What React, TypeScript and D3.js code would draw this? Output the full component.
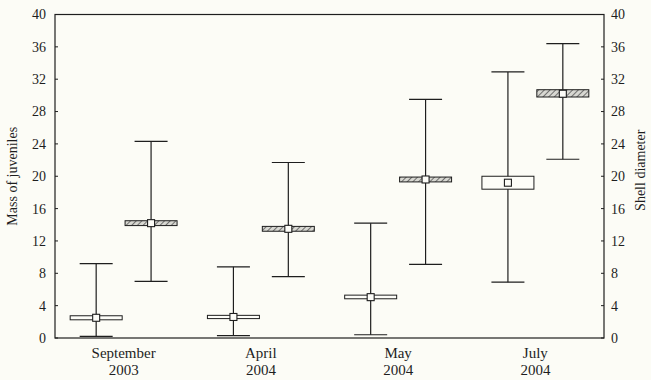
import React from "react";
import * as d3 from "d3";

const months = ["September", "April", "May", "July"];
const years = ["2003", "2004", "2004", "2004"];
const yTicks = [0, 4, 8, 12, 16, 20, 24, 28, 32, 36, 40];
const seriesKeys = ["mass", "shell"];

// mass of juveniles (white boxes)
const massMean = [2.5, 2.6, 5.05, 19.2];
const massLo = [2.25, 2.4, 4.85, 18.4];
const massHi = [2.75, 2.8, 5.3, 20.0];
const massMin = [0.2, 0.3, 0.4, 6.9];
const massMax = [9.2, 8.8, 14.2, 32.9];

// shell diameter (hatched boxes)
const shellMean = [14.2, 13.5, 19.6, 30.2];
const shellLo = [13.9, 13.2, 19.3, 29.8];
const shellHi = [14.5, 13.8, 19.9, 30.7];
const shellMin = [7.0, 7.6, 9.1, 22.1];
const shellMax = [24.3, 21.7, 29.5, 36.4];

const W = 651;
const H = 380;
const left = 55;
const right = 604;
const top = 14.5;
const bottom = 338;
const font = "'Liberation Serif', 'DejaVu Serif', serif";
const ink = "#1e1e1e";

export default function App() {
  const x = d3.scaleBand().domain(months).range([left, right]).padding(0);
  const xs = d3.scalePoint().domain(seriesKeys).range([0, x.bandwidth()]).padding(0.75);
  const y = d3.scaleLinear().domain([0, 40]).range([bottom, top]);

  const boxW = 52;
  const capW = 33;
  const dot = 7;

  const series = [
    { key: "mass", mean: massMean, lo: massLo, hi: massHi, min: massMin, max: massMax, fill: "#fdfdf8" },
    { key: "shell", mean: shellMean, lo: shellLo, hi: shellHi, min: shellMin, max: shellMax, fill: "url(#hatch)" },
  ];

  return (
    <svg width={W} height={H} style={{ position: "absolute", left: 0, top: 0, background: "#fcfcf6" }}>
      <defs>
        <pattern id="hatch" patternUnits="userSpaceOnUse" width="4" height="4" patternTransform="rotate(45)">
          <rect width="4" height="4" fill="#d8d8d2" />
          <line x1="0" y1="0" x2="0" y2="4" stroke="#555" strokeWidth="1.6" />
        </pattern>
      </defs>
      <rect x={0} y={0} width={W} height={H} fill="#fcfcf6" />

      {/* frame */}
      <rect x={left} y={top} width={right - left} height={bottom - top} fill="none" stroke={ink} strokeWidth={1.2} />

      {/* y ticks */}
      {yTicks.map((t) => (
        <g key={t}>
          <line x1={left} x2={left + 3} y1={y(t)} y2={y(t)} stroke={ink} />
          <line x1={right - 3} x2={right} y1={y(t)} y2={y(t)} stroke={ink} />
          <text x={left - 9} y={y(t)} dy="0.35em" textAnchor="end" fontFamily={font} fontSize={14} fill={ink}>
            {t}
          </text>
          <text x={right + 7} y={y(t)} dy="0.35em" textAnchor="start" fontFamily={font} fontSize={14} fill={ink}>
            {t}
          </text>
        </g>
      ))}

      {/* axis titles */}
      <text
        transform={`translate(17,${(top + bottom) / 2}) rotate(-90)`}
        textAnchor="middle"
        fontFamily={font}
        fontSize={14}
        fill={ink}
      >
        Mass of juveniles
      </text>
      <text
        transform={`translate(645,${(top + bottom) / 2 - 6}) rotate(-90)`}
        textAnchor="middle"
        fontFamily={font}
        fontSize={14}
        fill={ink}
      >
        Shell diameter
      </text>

      {/* category labels */}
      {months.map((m, i) => {
        const cx = (x(m) as number) + x.bandwidth() / 2;
        return (
          <g key={m}>
            <text x={cx} y={358} textAnchor="middle" fontFamily={font} fontSize={15} fill={ink}>
              {m}
            </text>
            <text x={cx} y={375} textAnchor="middle" fontFamily={font} fontSize={15} fill={ink}>
              {years[i]}
            </text>
          </g>
        );
      })}

      {/* boxes */}
      {series.map((s) =>
        months.map((m, i) => {
          const cx = (x(m) as number) + (xs(s.key) as number);
          return (
            <g key={s.key + m}>
              <line x1={cx} x2={cx} y1={y(s.min[i])} y2={y(s.max[i])} stroke={ink} strokeWidth={1.2} />
              <line x1={cx - capW / 2} x2={cx + capW / 2} y1={y(s.max[i])} y2={y(s.max[i])} stroke={ink} strokeWidth={1.2} />
              <line x1={cx - capW / 2} x2={cx + capW / 2} y1={y(s.min[i])} y2={y(s.min[i])} stroke={ink} strokeWidth={1.2} />
              <rect
                x={cx - boxW / 2}
                y={y(s.hi[i])}
                width={boxW}
                height={y(s.lo[i]) - y(s.hi[i])}
                fill={s.fill}
                stroke={ink}
                strokeWidth={1}
              />
              <rect
                x={cx - dot / 2}
                y={y(s.mean[i]) - dot / 2}
                width={dot}
                height={dot}
                fill="#fdfdf8"
                stroke={ink}
                strokeWidth={1.1}
              />
            </g>
          );
        })
      )}
    </svg>
  );
}
